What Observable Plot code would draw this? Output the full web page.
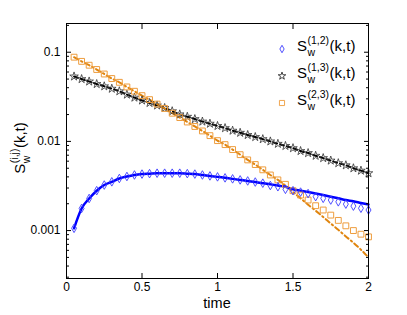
<!DOCTYPE html>
<html><head><meta charset="utf-8">
<script src="https://cdn.jsdelivr.net/npm/d3@7"></script>
<script src="https://cdn.jsdelivr.net/npm/@observablehq/plot@0.6"></script>
<style>
body{margin:0;background:#fff}
#chart svg{font-family:"Liberation Sans",Arial,Helvetica,sans-serif}
</style>
</head><body><div id="chart"></div>
<script>
const FONT = '"Liberation Sans",Arial,Helvetica,sans-serif';
// time grid (shared by simulations and theory curves)
const time = [0.05,0.1,0.15,0.2,0.25,0.3,0.35,0.4,0.45,0.5,0.55,0.6,0.65,0.7,0.75,0.8,0.85,0.9,0.95,1.0,1.05,1.1,1.15,1.2,1.25,1.3,1.35,1.4,1.45,1.5,1.55,1.6,1.65,1.7,1.75,1.8,1.85,1.9,1.95,2.0];
// S_w^(1,2): symbols (diamonds) and theory (solid line)
const s12Sim = [0.00106,0.00177,0.00229,0.0028,0.00324,0.00352,0.00384,0.00404,0.0042,0.0043,0.00435,0.0044,0.0044,0.0044,0.0044,0.00435,0.0043,0.0042,0.0041,0.0040,0.0039,0.0038,0.0037,0.0036,0.0035,0.0034,0.0032,0.0031,0.0029,0.0028,0.0027,0.0026,0.0024,0.0023,0.0022,0.0021,0.00198,0.00188,0.00178,0.0017];
const s12Theory = [0.00106,0.00177,0.00229,0.0028,0.00324,0.00352,0.00384,0.00404,0.0042,0.0043,0.00435,0.0044,0.0044,0.0044,0.0044,0.00435,0.0043,0.0042,0.0041,0.0040,0.0039,0.0038,0.0037,0.0036,0.0035,0.0034,0.0033,0.0032,0.0031,0.0029,0.0028,0.0027,0.0026,0.0025,0.0024,0.0023,0.0022,0.00213,0.00204,0.00196];
// S_w^(1,3): stars and dashed line
const s13Sim = [0.0535,0.050,0.047,0.044,0.0415,0.039,0.0365,0.0335,0.031,0.0288,0.027,0.0253,0.0237,0.0218,0.0201,0.0189,0.0178,0.0167,0.0158,0.0149,0.0141,0.0132,0.0125,0.0118,0.0112,0.0106,0.0100,0.0094,0.0089,0.0084,0.0078,0.0074,0.0069,0.0065,0.0061,0.0057,0.0054,0.0050,0.0047,0.0044];
const s13Theory = [0.0535,0.050,0.047,0.044,0.0415,0.039,0.0365,0.0335,0.031,0.0288,0.027,0.0253,0.0237,0.0218,0.0201,0.0189,0.0178,0.0167,0.0158,0.0149,0.0141,0.0132,0.0125,0.0118,0.0112,0.0106,0.0100,0.0094,0.0089,0.0084,0.0078,0.0074,0.0069,0.0065,0.0061,0.0057,0.0054,0.0050,0.0047,0.0044];
// S_w^(2,3): squares and dash-dot line
const s23Sim = [0.088,0.079,0.0715,0.064,0.057,0.0507,0.046,0.0408,0.0365,0.0326,0.0294,0.0262,0.0234,0.0207,0.0185,0.0165,0.0147,0.0131,0.0116,0.0102,0.0092,0.0081,0.0071,0.0062,0.0055,0.0048,0.0042,0.0037,0.0033,0.0028,0.0025,0.0022,0.0019,0.0017,0.00149,0.0013,0.00113,0.0010,0.00091,0.00085];
const s23Theory = [0.088,0.079,0.0715,0.064,0.057,0.0507,0.046,0.0408,0.0365,0.0326,0.0294,0.0262,0.0234,0.0207,0.0185,0.0165,0.0147,0.0131,0.0116,0.0102,0.0092,0.0081,0.0071,0.0062,0.0055,0.0048,0.0042,0.0037,0.0032,0.0027,0.0023,0.00195,0.00167,0.00142,0.0012,0.00102,0.00086,0.00073,0.00061,0.0005];
// ticks
const xTicks = [0,0.5,1,1.5,2];
const yMajor = [0.001,0.01,0.1];
const yMinor = [0.0003,0.0004,0.0005,0.0006,0.0007,0.0008,0.0009,0.002,0.003,0.004,0.005,0.006,0.007,0.008,0.009,0.02,0.03,0.04,0.05,0.06,0.07,0.08,0.09,0.2];
const seriesLabels = ["(1,2)","(1,3)","(2,3)"];

const BLUE = "#0000ff", BLUE_SYM = "#3c3cff", ORANGE = "#e0850f", ORANGE_SYM = "#ee9d3e", BLACK_SYM = "#333";

const rows = vals => time.map((t,i)=>({t, v: vals[i]}));
const blank = () => "";

const plot = Plot.plot({
  width: 407, height: 315,
  marginLeft: 66, marginRight: 39, marginTop: 23, marginBottom: 37,
  x: {domain: [0, 2]},
  y: {type: "log", domain: [0.00029, 0.21]},
  style: {fontFamily: FONT, fontSize: "12px", background: "white", color: "black"},
  marks: [
    Plot.line(rows(s13Theory), {x: "t", y: "v", stroke: "#000", strokeWidth: 2, strokeDasharray: "4,3", curve: "monotone-x"}),
    Plot.line(rows(s23Theory), {x: "t", y: "v", stroke: ORANGE, strokeWidth: 2, strokeDasharray: "5,3,1.5,3", curve: "monotone-x"}),
    Plot.line(rows(s12Theory), {x: "t", y: "v", stroke: BLUE, strokeWidth: 2.5, curve: "monotone-x"}),
    Plot.dot(rows(s13Sim), {x: "t", y: "v", symbol: "star", r: 2.7, stroke: BLACK_SYM, fill: "none", strokeWidth: 0.8}),
    Plot.dot(rows(s23Sim), {x: "t", y: "v", symbol: "square", r: 3.3, stroke: ORANGE_SYM, fill: "none", strokeWidth: 1}),
    Plot.dot(rows(s12Sim), {x: "t", y: "v", symbol: "diamond", r: 2.6, stroke: BLUE_SYM, fill: "none", strokeWidth: 0.9}),
    Plot.frame({stroke: "black", strokeWidth: 1}),
    Plot.axisX({ticks: xTicks, tickSize: 0, tickPadding: 4, label: null, tickFormat: d => String(d)}),
    Plot.axisX({ticks: xTicks, tickSize: 5, dy: -5, label: null, tickFormat: blank}),
    Plot.axisX({ticks: xTicks, anchor: "top", tickSize: 5, dy: 5, label: null, tickFormat: blank}),
    Plot.axisY({ticks: yMajor, tickSize: 0, tickPadding: 6, label: null, tickFormat: d => String(d)}),
    Plot.axisY({ticks: yMajor, tickSize: 5, dx: 5, label: null, tickFormat: blank}),
    Plot.axisY({ticks: yMinor, tickSize: 3, dx: 3, label: null, tickFormat: blank}),
    Plot.axisY({ticks: yMajor, anchor: "right", tickSize: 5, dx: -5, label: null, tickFormat: blank}),
    Plot.axisY({ticks: yMinor, anchor: "right", tickSize: 3, dx: -3, label: null, tickFormat: blank})
  ]
});
document.getElementById("chart").appendChild(plot);

const svg = d3.select(plot);

// Arial / Liberation Sans advance widths (em units)
const ADV = {"S":0.667,"w":0.722,"(":0.333,")":0.333,",":0.278,"i":0.222,"j":0.222,"k":0.5,"t":0.278,"1":0.556,"2":0.556,"3":0.556};
const tw = (s, size) => [...s].reduce((a, c) => a + (ADV[c] || 0.556) * size, 0);

function rich(parent, {x, y, rotate = 0, size = 15, sup, sub = "w", tail = "(k,t)", anchor = "start"}) {
  const small = size * 0.7;
  const subW = tw(sub, small), supW = tw(sup, small);
  const total = tw("S", size) + 0.5 + Math.max(subW, supW) + 0.5 + tw(tail, size);
  const g = parent.append("g").attr("transform", `translate(${x},${y}) rotate(${rotate})`);
  const text = g.append("text").attr("font-family", FONT).attr("fill", "black").attr("text-anchor", "start")
    .attr("font-size", size).attr("x", anchor === "middle" ? -total / 2 : 0).attr("y", 0);
  text.append("tspan").text("S");
  text.append("tspan").attr("font-size", small).attr("dx", 0.5).attr("dy", size * 0.33).text(sub);
  text.append("tspan").attr("font-size", small).attr("dx", -subW).attr("dy", -size * 0.78).text(sup);
  text.append("tspan").attr("font-size", size).attr("dx", 0.5 + Math.max(0, subW - supW)).attr("dy", size * 0.45).text(tail);
  return g;
}

// y-axis label
rich(svg, {x: 25, y: 148, rotate: -90, size: 15, sup: "(i,j)", anchor: "middle"});

// x-axis label
svg.append("text").attr("x", 217).attr("y", 308).attr("text-anchor", "middle")
  .attr("font-family", FONT).attr("font-size", 14.5).attr("fill", "black").text("time");

// legend
const legendSymbols = [
  {type: d3.symbolDiamond, size: 16, stroke: BLUE_SYM},
  {type: d3.symbolStar, size: 18, stroke: BLACK_SYM},
  {type: d3.symbolSquare, size: 26, stroke: ORANGE_SYM}
];
const legendBase = [51, 78, 105];
seriesLabels.forEach((lab, i) => {
  const yb = legendBase[i];
  svg.append("path").attr("d", d3.symbol(legendSymbols[i].type, legendSymbols[i].size)())
    .attr("transform", `translate(282,${yb - 2})`).attr("fill", "none")
    .attr("stroke", legendSymbols[i].stroke).attr("stroke-width", 0.9);
  rich(svg, {x: 297, y: yb, size: 15, sup: lab});
});
</script>
</body></html>
